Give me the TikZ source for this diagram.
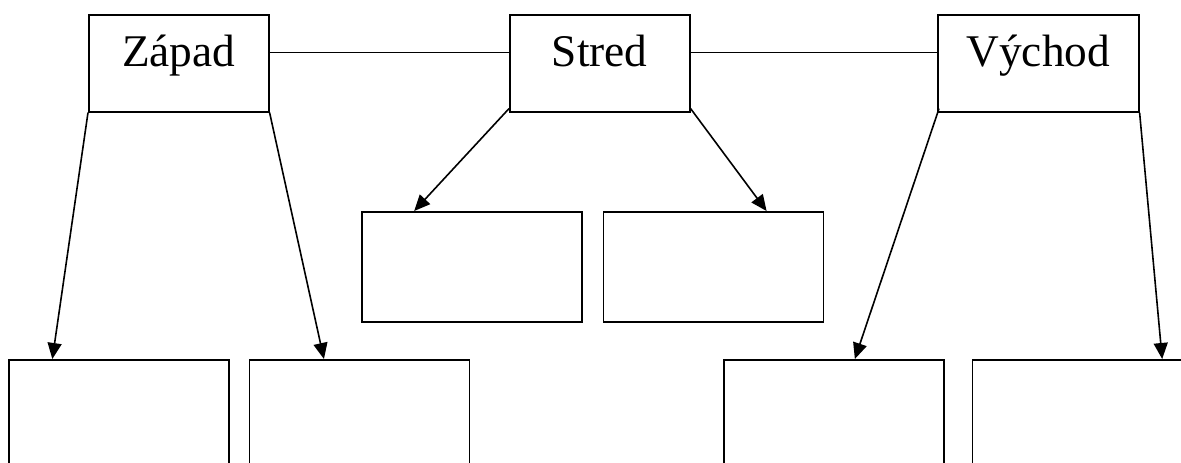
\documentclass[tikz,border=0pt]{standalone}
\usepackage{fontspec}
\setmainfont{Liberation Serif}
\usetikzlibrary{arrows.meta, positioning, calc}

\begin{document}
\begin{tikzpicture}[
    x=0.75pt, y=-0.75pt,
    line width=1.2pt,
    node distance=15pt,
    regionBox/.style={draw, inner sep=0pt, minimum width=135pt, text height=39pt, text depth=33.75pt, anchor=north west, font=\fontsize{34}{37}\selectfont},
    subBox/.style={draw, inner sep=0pt, minimum width=165pt, minimum height=82.5pt, anchor=north west},
    linkArrow/.style={-{Triangle[length=12pt, width=10.5pt]}}
]
\clip (0,0) rectangle (1181,463);

% Top row: regions
\node[regionBox] (zapad) at (88,14) {Západ};
\node[regionBox] (stred) at (509,14) {Stred};
\node[regionBox, minimum width=150.75pt] (vychod) at (937,14) {Východ};

% Middle row: boxes under Stred
\node[subBox] (sLeft) at (361,211) {};
\node[subBox, right=15pt of sLeft] (sRight) {};

% Bottom row: boxes under Západ and Východ
\node[subBox] (zLeft) at (8,359) {};
\node[subBox, right=14.25pt of zLeft] (zRight) {};
\node[subBox] (vLeft) at (723,359) {};
\node[subBox, right=20.25pt of vLeft] (vRight) {};

% Links between regions
\draw ([yshift=8pt]zapad.east) -- ([yshift=8pt]stred.west);
\draw ([yshift=8pt]stred.east) -- ([yshift=8pt]vychod.west);

% Arrows down to the boxes
\draw[linkArrow] (zapad.south west) -- ($(zLeft.north west)!0.2!(zLeft.north east)$);
\draw[linkArrow] (zapad.south east) -- ($(zRight.north west)!0.34!(zRight.north east)$);
\draw[linkArrow] ([yshift=3pt]stred.south west) -- ($(sLeft.north west)!0.24!(sLeft.north east)$);
\draw[linkArrow] ([yshift=3pt]stred.south east) -- ($(sRight.north west)!0.74!(sRight.north east)$);
\draw[linkArrow] ([xshift=1.5pt, yshift=3pt]vychod.south west) -- ($(vLeft.north west)!0.595!(vLeft.north east)$);
\draw[linkArrow] (vychod.south east) -- ($(vRight.north west)!0.86!(vRight.north east)$);

\end{tikzpicture}
\end{document}
